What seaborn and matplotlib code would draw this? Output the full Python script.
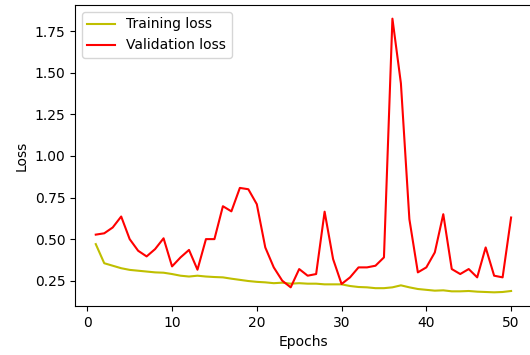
import matplotlib
matplotlib.use("Agg")
import matplotlib.pyplot as plt
import seaborn as sns
import pandas as pd

# --- dados ---
epochs = list(range(1, 51))
training_loss = [0.47, 0.355, 0.34, 0.325, 0.315, 0.31, 0.305, 0.30, 0.298, 0.29,
                 0.28, 0.275, 0.28, 0.275, 0.272, 0.27, 0.262, 0.255, 0.248, 0.243,
                 0.24, 0.235, 0.238, 0.232, 0.235, 0.232, 0.232, 0.228, 0.228, 0.228,
                 0.218, 0.212, 0.21, 0.205, 0.205, 0.21, 0.222, 0.21, 0.20, 0.195,
                 0.19, 0.192, 0.186, 0.186, 0.188, 0.184, 0.182, 0.18, 0.182, 0.188]
validation_loss = [0.527, 0.535, 0.57, 0.636, 0.50, 0.43, 0.396, 0.44, 0.505, 0.336,
                   0.39, 0.435, 0.316, 0.50, 0.50, 0.698, 0.667, 0.808, 0.80, 0.71,
                   0.45, 0.33, 0.25, 0.21, 0.32, 0.28, 0.29, 0.665, 0.38, 0.23,
                   0.27, 0.33, 0.33, 0.34, 0.39, 1.826, 1.437, 0.62, 0.30, 0.33,
                   0.42, 0.65, 0.32, 0.29, 0.32, 0.27, 0.45, 0.28, 0.27, 0.63]

df = pd.DataFrame({"epoch": epochs, "train": training_loss, "val": validation_loss})

fig = plt.figure(figsize=(5.3, 3.55), dpi=100)
# o eixo direito fica fora da imagem, como no original recortado
ax = fig.add_axes([0.1415, 0.138, 0.862, 0.848])

sns.lineplot(data=df, x="epoch", y="train", color="y", label="Training loss", ax=ax)
sns.lineplot(data=df, x="epoch", y="val", color="r", label="Validation loss", ax=ax)

ax.spines["right"].set_visible(False)
ax.set_xlabel("Epochs")
ax.set_ylabel("Loss")
ax.legend(loc="upper left")

fig.savefig("out.png", dpi=100)
